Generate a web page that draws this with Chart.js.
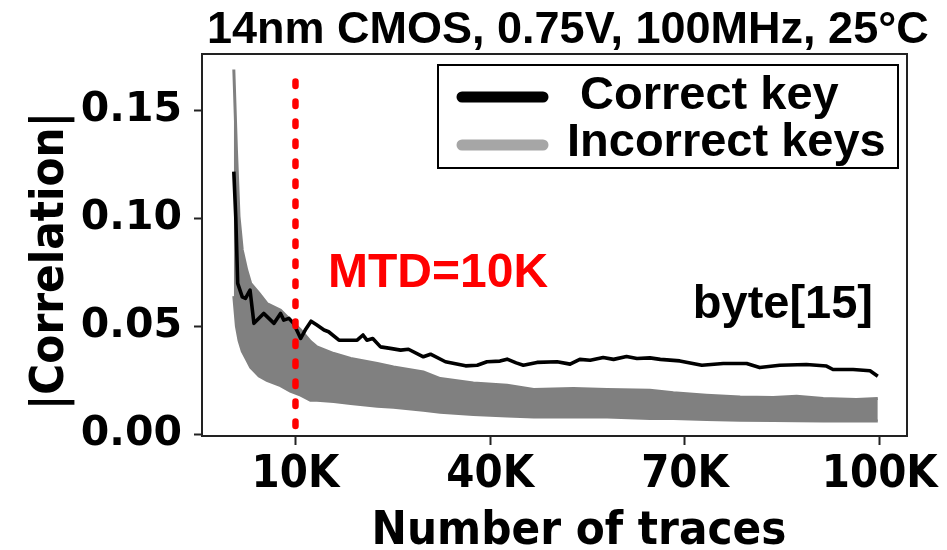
<!DOCTYPE html>
<html><head><meta charset="utf-8">
<script src="https://cdn.jsdelivr.net/npm/chart.js@4/dist/chart.umd.min.js"></script>
<style>html,body{margin:0;padding:0;background:#fff;}canvas{display:block;}</style>
</head><body>
<canvas id="c" width="947" height="550"></canvas>
<script>
// ---- texts ----
const chartTitle = '14nm CMOS, 0.75V, 100MHz, 25°C';
const xAxisTitle = 'Number of traces';
const yAxisTitle = '|Correlation|';
const legendLabels = [' Correct key', 'Incorrect keys'];
const mtdLabel = 'MTD=10K';
const byteLabel = 'byte[15]';

// ---- ticks ----
const xTickValues = [10, 40, 70, 100];
const xTickLabels = ['10K', '40K', '70K', '100K'];
const yTickValues = [0, 0.05, 0.10, 0.15];
const yTickLabels = ['0.00', '0.05', '0.10', '0.15'];

// ---- data (x in thousands of traces) ----
const correctTraces = [0.5,0.8,1.1,1.8,2.3,3.0,3.6,5.1,6.7,7.7,8.2,9.0,9.7,10.8,11.5,12.4,13.3,14.4,15.1,16.7,18.0,19.5,20.4,21.0,21.9,23.1,24.6,26.2,27.4,29.7,30.8,33.1,36.2,38.0,39.5,41.5,42.6,44.0,45.1,47.2,50.3,52.3,53.8,55.4,57.4,59.0,61.0,62.6,64.6,66.2,69.2,72.6,75.9,79.5,81.5,84.6,88.7,91.8,92.8,95.9,98.5,99.7];
const correctKey = [0.1217,0.1008,0.0699,0.0637,0.0630,0.0668,0.0514,0.0560,0.0514,0.0560,0.0529,0.0537,0.0514,0.0444,0.0483,0.0524,0.0506,0.0483,0.0475,0.0436,0.0436,0.0436,0.0460,0.0436,0.0444,0.0405,0.0398,0.0390,0.0394,0.0359,0.0371,0.0336,0.0317,0.0320,0.0336,0.0339,0.0348,0.0331,0.0320,0.0333,0.0336,0.0325,0.0347,0.0343,0.0356,0.0347,0.0360,0.0351,0.0354,0.0347,0.0340,0.0320,0.0328,0.0328,0.0309,0.0320,0.0323,0.0316,0.0300,0.0300,0.0294,0.0269];

const incorrectTraces = [0.5,0.9,1.3,1.8,2.5,3.1,4.4,5.6,7.7,9.2,10.8,12.3,13.3,15.9,18.5,22.6,25.1,29.7,32.3,37.4,42.6,46.7,52.8,58.0,64.6,68.2,73.3,78.5,83.6,87.2,91.3,96.4,99.7];
const incorrectUpper = [0.169,0.132,0.101,0.0854,0.076,0.0699,0.0653,0.0606,0.0575,0.0529,0.0483,0.0430,0.0405,0.0374,0.0351,0.0328,0.0312,0.0289,0.0258,0.0238,0.0227,0.0207,0.0212,0.0207,0.0204,0.0192,0.0181,0.0173,0.0170,0.0176,0.0166,0.0161,0.0166];
const incorrectLower = [0.064,0.050,0.0435,0.0385,0.0345,0.031,0.027,0.025,0.0225,0.020,0.0181,0.0158,0.0158,0.0152,0.0142,0.0130,0.0125,0.0111,0.0102,0.0092,0.0085,0.0080,0.0080,0.0080,0.0073,0.0073,0.0069,0.0065,0.0064,0.0063,0.0062,0.0062,0.0062];

const mtdTraces = [10, 10];
const mtdLine = [0.1635, 0];

// ---- build ----
const pts = (xs, ys) => xs.map((x, i) => ({x: x, y: ys[i]}));
const GRAY = '#808080';
const condFam = "'DejaVu Sans Condensed', 'DejaVu Sans'";
const arialFam = "'Liberation Sans', Arial, sans-serif";

const overlay = {
  id: 'overlay',
  afterDraw(chart) {
    const ctx = chart.ctx, a = chart.chartArea;
    ctx.save();
    // frame
    ctx.strokeStyle = '#222';
    ctx.lineWidth = 2;
    ctx.strokeRect(a.left, a.top, a.right - a.left, a.bottom - a.top);
    // title
    ctx.fillStyle = '#000';
    ctx.font = 'bold 45px ' + arialFam;
    ctx.textAlign = 'left';
    ctx.textBaseline = 'alphabetic';
    ctx.fillText(chartTitle, 207, 43);
    // legend
    ctx.lineWidth = 2;
    ctx.strokeStyle = '#000';
    ctx.fillStyle = '#fff';
    ctx.fillRect(438, 65, 460, 103);
    ctx.strokeRect(438, 65, 460, 103);
    ctx.lineCap = 'round';
    ctx.lineWidth = 11;
    ctx.strokeStyle = '#000';
    ctx.beginPath(); ctx.moveTo(462, 97); ctx.lineTo(543, 97); ctx.stroke();
    ctx.strokeStyle = '#a6a6a6';
    ctx.beginPath(); ctx.moveTo(462, 145); ctx.lineTo(543, 145); ctx.stroke();
    ctx.fillStyle = '#000';
    ctx.font = 'bold 47px ' + arialFam;
    ctx.fillText(legendLabels[0], 567, 109);
    ctx.fillText(legendLabels[1], 567, 156);
    // annotations
    ctx.fillStyle = '#ff0000';
    ctx.font = 'bold 48px ' + arialFam;
    ctx.fillText(mtdLabel, 328, 287);
    ctx.fillStyle = '#000';
    ctx.font = 'bold 47px ' + arialFam;
    ctx.textAlign = 'right';
    ctx.fillText(byteLabel, 873, 318);
    // axis titles
    ctx.font = 'bold 47px ' + condFam;
    ctx.textAlign = 'center';
    ctx.fillText(xAxisTitle, 579, 544);
    ctx.translate(63, 261);
    ctx.rotate(-Math.PI / 2);
    ctx.fillText(yAxisTitle, 0, 0);
    ctx.restore();
  }
};

new Chart(document.getElementById('c'), {
  type: 'line',
  data: {
    datasets: [
      { label: 'MTD', data: pts(mtdTraces, mtdLine), borderColor: '#ff0000', borderWidth: 6.5,
        borderDash: [4.5, 15.5], borderCapStyle: 'round', pointRadius: 0, fill: false },
      { label: 'Correct key', data: pts(correctTraces, correctKey), borderColor: '#000', borderWidth: 3.6,
        pointRadius: 0, fill: false, tension: 0, borderJoinStyle: 'round' },
      { label: 'Incorrect keys', data: pts(incorrectTraces, incorrectUpper), borderColor: GRAY, borderWidth: 3,
        backgroundColor: GRAY, pointRadius: 0, fill: '+1', tension: 0 },
      { label: 'Incorrect keys (low)', data: pts(incorrectTraces, incorrectLower), borderColor: GRAY, borderWidth: 3,
        pointRadius: 0, fill: false, tension: 0 }
    ]
  },
  options: {
    responsive: false,
    animation: false,
    devicePixelRatio: 1,
    layout: { padding: { left: 0, top: 54, right: 40, bottom: 0 } },
    plugins: { legend: { display: false }, title: { display: false }, tooltip: { enabled: false } },
    scales: {
      x: {
        type: 'linear', min: -4.4, max: 104.2,
        afterFit: s => { s.height = 114; },
        afterBuildTicks: s => { s.ticks = xTickValues.map(v => ({value: v})); },
        grid: { drawOnChartArea: false, drawTicks: true, tickLength: 9, tickWidth: 2, tickColor: '#222' },
        border: { display: false },
        ticks: { padding: 3, color: '#000', maxRotation: 0, autoSkip: false,
          font: { family: condFam, weight: 'bold', size: 45 },
          callback: (v) => xTickLabels[xTickValues.indexOf(v)] }
      },
      y: {
        type: 'linear', min: -0.0008, max: 0.1762,
        afterFit: s => { s.width = 202; },
        afterBuildTicks: s => { s.ticks = yTickValues.map(v => ({value: v})); },
        grid: { drawOnChartArea: false, drawTicks: true, tickLength: 8, tickWidth: 2, tickColor: '#222' },
        border: { display: false },
        ticks: { padding: 12, color: '#000', autoSkip: false,
          font: { family: "'DejaVu Sans'", weight: 'bold', size: 41 },
          callback: (v) => { const i = yTickValues.findIndex(t => Math.abs(t - v) < 1e-9); return i >= 0 ? yTickLabels[i] : ''; } }
      }
    }
  },
  plugins: [overlay]
});
</script>
</body></html>
